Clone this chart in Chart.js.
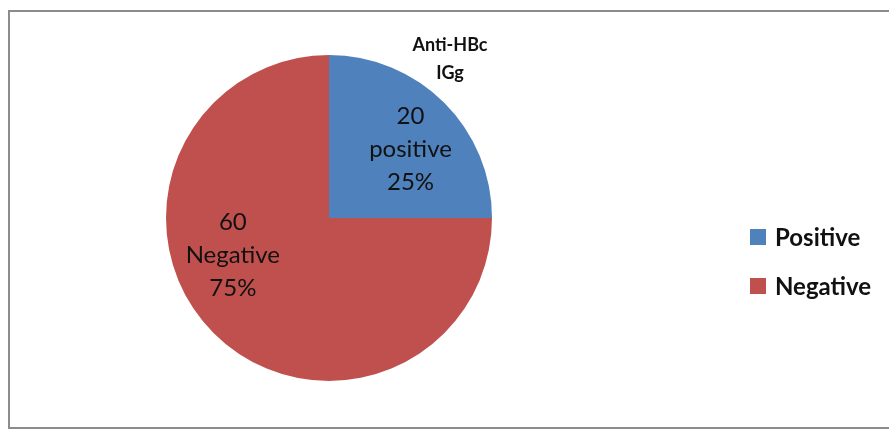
<!DOCTYPE html>
<html>
<head>
<meta charset="utf-8">
<script src="https://cdn.jsdelivr.net/npm/chart.js@4/dist/chart.umd.min.js"></script>
<style>
  html, body { margin: 0; padding: 0; background: #fff; }
  #wrap { width: 889px; height: 430px; position: relative; }
</style>
</head>
<body>
<div id="wrap"><canvas id="pieChart" width="889" height="430"></canvas></div>
<script>
const categories = ["Positive", "Negative"];
const counts = [20, 60];
const sliceNames = ["positive", "Negative"];
const colors = ["#4F81BD", "#C0504D"];
const titleLines = ["Anti-HBc", "IGg"];

// label placement relative to pie centre, as fraction of radius
const labelOffsets = [[0.5, -0.42], [-0.59, 0.23]];

const FONT = "Lato, 'Open Sans', sans-serif";

const decor = {
    id: "decor",
    beforeDraw(chart) {
        const ctx = chart.ctx;
        ctx.save();
        ctx.strokeStyle = "#8c8c8c";
        ctx.lineWidth = 2;
        ctx.strokeRect(9, 11, 900, 417);
        ctx.restore();
    },
    afterDraw(chart) {
        const ctx = chart.ctx;
        const meta = chart.getDatasetMeta(0);
        const total = counts.reduce((a, b) => a + b, 0);
        ctx.save();
        ctx.fillStyle = "#111";
        ctx.textAlign = "center";
        ctx.textBaseline = "middle";

        // slice labels
        ctx.font = "24px " + FONT;
        meta.data.forEach((arc, i) => {
            const r = arc.outerRadius;
            const x = arc.x + labelOffsets[i][0] * r;
            const y = arc.y + labelOffsets[i][1] * r;
            const pct = Math.round(counts[i] / total * 100) + "%";
            [String(counts[i]), sliceNames[i], pct].forEach((t, k) => {
                ctx.fillText(t, x, y + (k - 1) * 33);
            });
        });

        // title
        ctx.font = "bold 18px " + FONT;
        titleLines.forEach((t, k) => ctx.fillText(t, 450, 45 + k * 28));

        // legend
        ctx.textAlign = "left";
        ctx.font = "bold 24px " + FONT;
        categories.forEach((c, i) => {
            const y = 237 + i * 49;
            ctx.fillStyle = colors[i];
            ctx.fillRect(750, y - 8, 16, 16);
            ctx.fillStyle = "#111";
            ctx.fillText(c, 775, y + 1);
        });
        ctx.restore();
    }
};

new Chart(document.getElementById("pieChart"), {
    type: "pie",
    data: {
        labels: categories,
        datasets: [{
            data: counts,
            backgroundColor: colors,
            borderWidth: 0
        }]
    },
    options: {
        responsive: false,
        animation: false,
        layout: { padding: { left: 166, right: 397, top: 55, bottom: 49 } },
        plugins: {
            legend: { display: false },
            tooltip: { enabled: false }
        }
    },
    plugins: [decor]
});
</script>
</body>
</html>
